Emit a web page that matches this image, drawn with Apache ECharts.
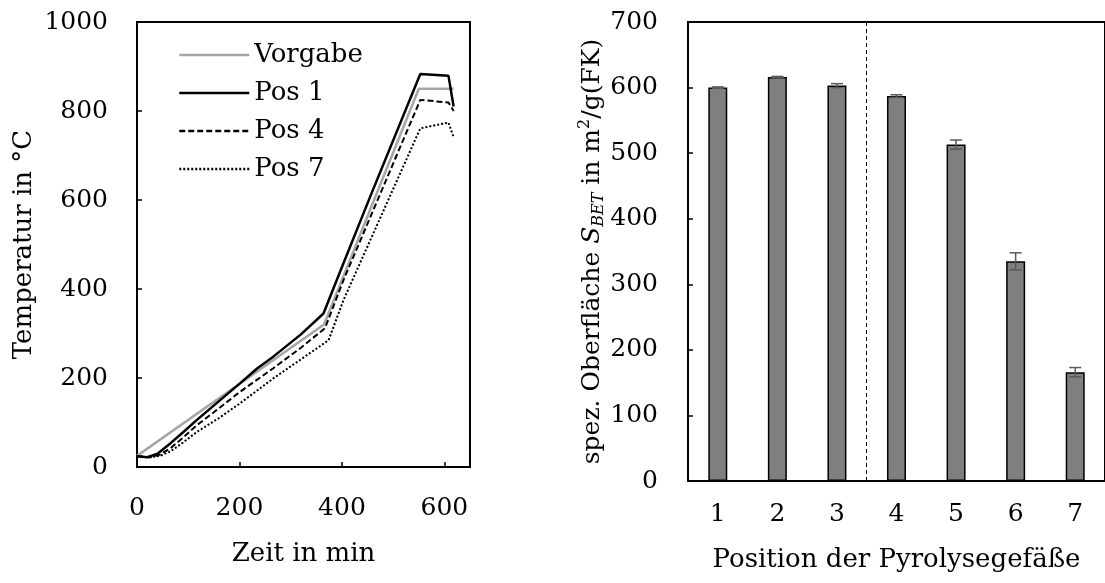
<!DOCTYPE html>
<html>
<head>
<meta charset="utf-8">
<script src="https://cdn.jsdelivr.net/npm/echarts@6/dist/echarts.min.js"></script>
<style>
  html, body { margin: 0; padding: 0; background: #fff; }
  #chart { width: 1105px; height: 583px; }
</style>
</head>
<body>
<div id="chart"></div>
<script>
// Temperaturverlauf (links): [Zeit in min, Temperatur in °C]
var vorgabe = [[0, 25], [365, 320], [550, 850], [618, 850]];
var pos1 = [[0, 24], [20, 22], [40, 30], [65, 53], [90, 78], [117, 106], [160, 148], [201, 188],
  [235, 222], [266, 248], [320, 298], [364, 345], [403, 458], [455, 607], [553, 883], [608, 879], [618, 810]];
var pos4 = [[0, 24], [25, 22], [45, 28], [65, 42], [90, 66], [117, 94], [160, 132], [201, 169],
  [266, 222], [320, 268], [367, 312], [403, 420], [553, 825], [608, 819], [618, 800]];
var pos7 = [[0, 24], [25, 22], [45, 25], [65, 35], [90, 55], [117, 79], [160, 110], [201, 143],
  [266, 199], [330, 250], [374, 285], [403, 375], [553, 761], [608, 774], [618, 741]];

// BET-Oberfläche (rechts)
var positionen = ['1', '2', '3', '4', '5', '6', '7'];
var sbet = [600, 616, 603, 587, 513, 335, 166];
var sbetFehler = [1, 1, 3, 2, 7, 13, 7];
var trennPosition = 3.5;

var font = 'DejaVu Serif';
var fs = 25;   // Achsenbeschriftung
var fsT = 26;  // Achsentitel, Legende

var fehlerDaten = sbet.map(function (v, i) {
  return [i, v - sbetFehler[i], v + sbetFehler[i]];
});

function plain(v) {
  return String(v);
}

var chart = echarts.init(document.getElementById('chart'));

chart.setOption({
  animation: false,
  backgroundColor: '#fff',
  textStyle: { fontFamily: font, color: '#000' },
  grid: [
    { left: 137, right: 635, top: 22, bottom: 116, show: true, borderColor: '#000', borderWidth: 2 },
    { left: 688, right: -5, top: 22, bottom: 102, show: true, borderColor: '#000', borderWidth: 2 }
  ],
  legend: {
    orient: 'vertical',
    left: 173,
    top: 37,
    padding: 5,
    itemWidth: 70,
    itemHeight: 14,
    itemGap: 12,
    itemStyle: { opacity: 0 },
    lineStyle: { width: 2.5 },
    textStyle: { fontFamily: font, fontSize: fsT, color: '#000', lineHeight: 24 },
    data: ['Vorgabe', 'Pos 1', 'Pos 4', 'Pos 7']
  },
  xAxis: [
    {
      type: 'value', gridIndex: 0, min: 0, max: 650, interval: 200,
      name: 'Zeit in min', nameLocation: 'middle', nameGap: 74, nameMoveOverlap: false,
      nameTextStyle: { fontFamily: font, fontSize: fsT, color: '#000' },
      axisLine: { show: true, lineStyle: { color: '#000', width: 2 } },
      axisTick: { show: true, inside: true, length: 5, lineStyle: { color: '#000', width: 1.5 } },
      axisLabel: { fontFamily: font, fontSize: fs, color: '#000', margin: 29, showMaxLabel: false, formatter: plain },
      splitLine: { show: false }
    },
    {
      type: 'category', gridIndex: 1, data: positionen,
      name: 'Position der Pyrolysegefäße', nameLocation: 'middle', nameGap: 66, nameMoveOverlap: false,
      nameTextStyle: { fontFamily: font, fontSize: fsT, color: '#000' },
      axisLine: { show: true, lineStyle: { color: '#000', width: 2 } },
      axisTick: { show: false },
      axisLabel: { fontFamily: font, fontSize: fs, color: '#000', margin: 21 },
      splitLine: { show: false }
    },
    {
      // unsichtbare Hilfsachse für die gestrichelte Trennlinie
      type: 'value', gridIndex: 1, min: 0.5, max: 7.5, show: false
    }
  ],
  yAxis: [
    {
      type: 'value', gridIndex: 0, min: 0, max: 1000, interval: 200,
      name: 'Temperatur in °C', nameLocation: 'middle', nameGap: 100, nameMoveOverlap: false,
      nameTextStyle: { fontFamily: font, fontSize: fsT, color: '#000' },
      axisLine: { show: true, lineStyle: { color: '#000', width: 2 } },
      axisTick: { show: true, inside: true, length: 5, lineStyle: { color: '#000', width: 1.5 } },
      axisLabel: { fontFamily: font, fontSize: fs, color: '#000', margin: 29, formatter: plain },
      splitLine: { show: false }
    },
    {
      type: 'value', gridIndex: 1, min: 0, max: 700, interval: 100,
      name: '{a|spez. Oberfläche }{s|S}{sub|BET}{a| in m}{sup|2}{a|/g(FK)}',
      nameLocation: 'middle', nameGap: 81, nameMoveOverlap: false,
      nameTextStyle: {
        fontFamily: font, fontSize: 25, color: '#000',
        rich: {
          a: { fontFamily: font, fontSize: 25, color: '#000', lineHeight: 30 },
          s: { fontFamily: font, fontSize: 25, fontStyle: 'italic', color: '#000', lineHeight: 30 },
          sub: { fontFamily: font, fontSize: 16, fontStyle: 'italic', color: '#000', lineHeight: 16, verticalAlign: 'bottom' },
          sup: { fontFamily: font, fontSize: 16, color: '#000', lineHeight: 16, verticalAlign: 'top' }
        }
      },
      axisLine: { show: true, lineStyle: { color: '#000', width: 2 } },
      axisTick: { show: true, inside: true, length: 5, lineStyle: { color: '#000', width: 1.5 } },
      axisLabel: { fontFamily: font, fontSize: fs, color: '#000', margin: 30, formatter: plain },
      splitLine: { show: false }
    }
  ],
  series: [
    {
      name: 'Vorgabe', type: 'line', xAxisIndex: 0, yAxisIndex: 0, data: vorgabe,
      symbol: 'none', showSymbol: false, z: 2,
      lineStyle: { color: '#a6a6a6', width: 2.5 }, itemStyle: { color: '#a6a6a6' }
    },
    {
      name: 'Pos 1', type: 'line', xAxisIndex: 0, yAxisIndex: 0, data: pos1,
      symbol: 'none', showSymbol: false, z: 3,
      lineStyle: { color: '#000', width: 2.5 }, itemStyle: { color: '#000' }
    },
    {
      name: 'Pos 4', type: 'line', xAxisIndex: 0, yAxisIndex: 0, data: pos4,
      symbol: 'none', showSymbol: false, z: 3,
      lineStyle: { color: '#000', width: 2, type: [6, 3] }, itemStyle: { color: '#000' }
    },
    {
      name: 'Pos 7', type: 'line', xAxisIndex: 0, yAxisIndex: 0, data: pos7,
      symbol: 'none', showSymbol: false, z: 3,
      lineStyle: { color: '#000', width: 2, type: [2, 2] }, itemStyle: { color: '#000' }
    },
    {
      name: 'SBET', type: 'bar', xAxisIndex: 1, yAxisIndex: 1, data: sbet,
      barWidth: 19,
      itemStyle: { color: '#7f7f7f', borderColor: '#000', borderWidth: 1.5 }
    },
    {
      name: 'Fehler', type: 'custom', xAxisIndex: 1, yAxisIndex: 1, data: fehlerDaten, z: 5,
      renderItem: function (params, api) {
        var x = api.value(0);
        var lo = api.coord([x, api.value(1)]);
        var hi = api.coord([x, api.value(2)]);
        var w = 6;
        var st = { stroke: '#595959', lineWidth: 1.5 };
        return {
          type: 'group',
          children: [
            { type: 'line', shape: { x1: lo[0], y1: lo[1], x2: hi[0], y2: hi[1] }, style: st },
            { type: 'line', shape: { x1: lo[0] - w, y1: lo[1], x2: lo[0] + w, y2: lo[1] }, style: st },
            { type: 'line', shape: { x1: hi[0] - w, y1: hi[1], x2: hi[0] + w, y2: hi[1] }, style: st }
          ]
        };
      }
    },
    {
      name: 'Trennung', type: 'line', xAxisIndex: 2, yAxisIndex: 1, data: [],
      markLine: {
        silent: true, symbol: 'none', label: { show: false },
        lineStyle: { color: '#000', width: 1, type: [4, 3] },
        data: [{ xAxis: trennPosition }]
      }
    }
  ]
});
</script>
</body>
</html>
